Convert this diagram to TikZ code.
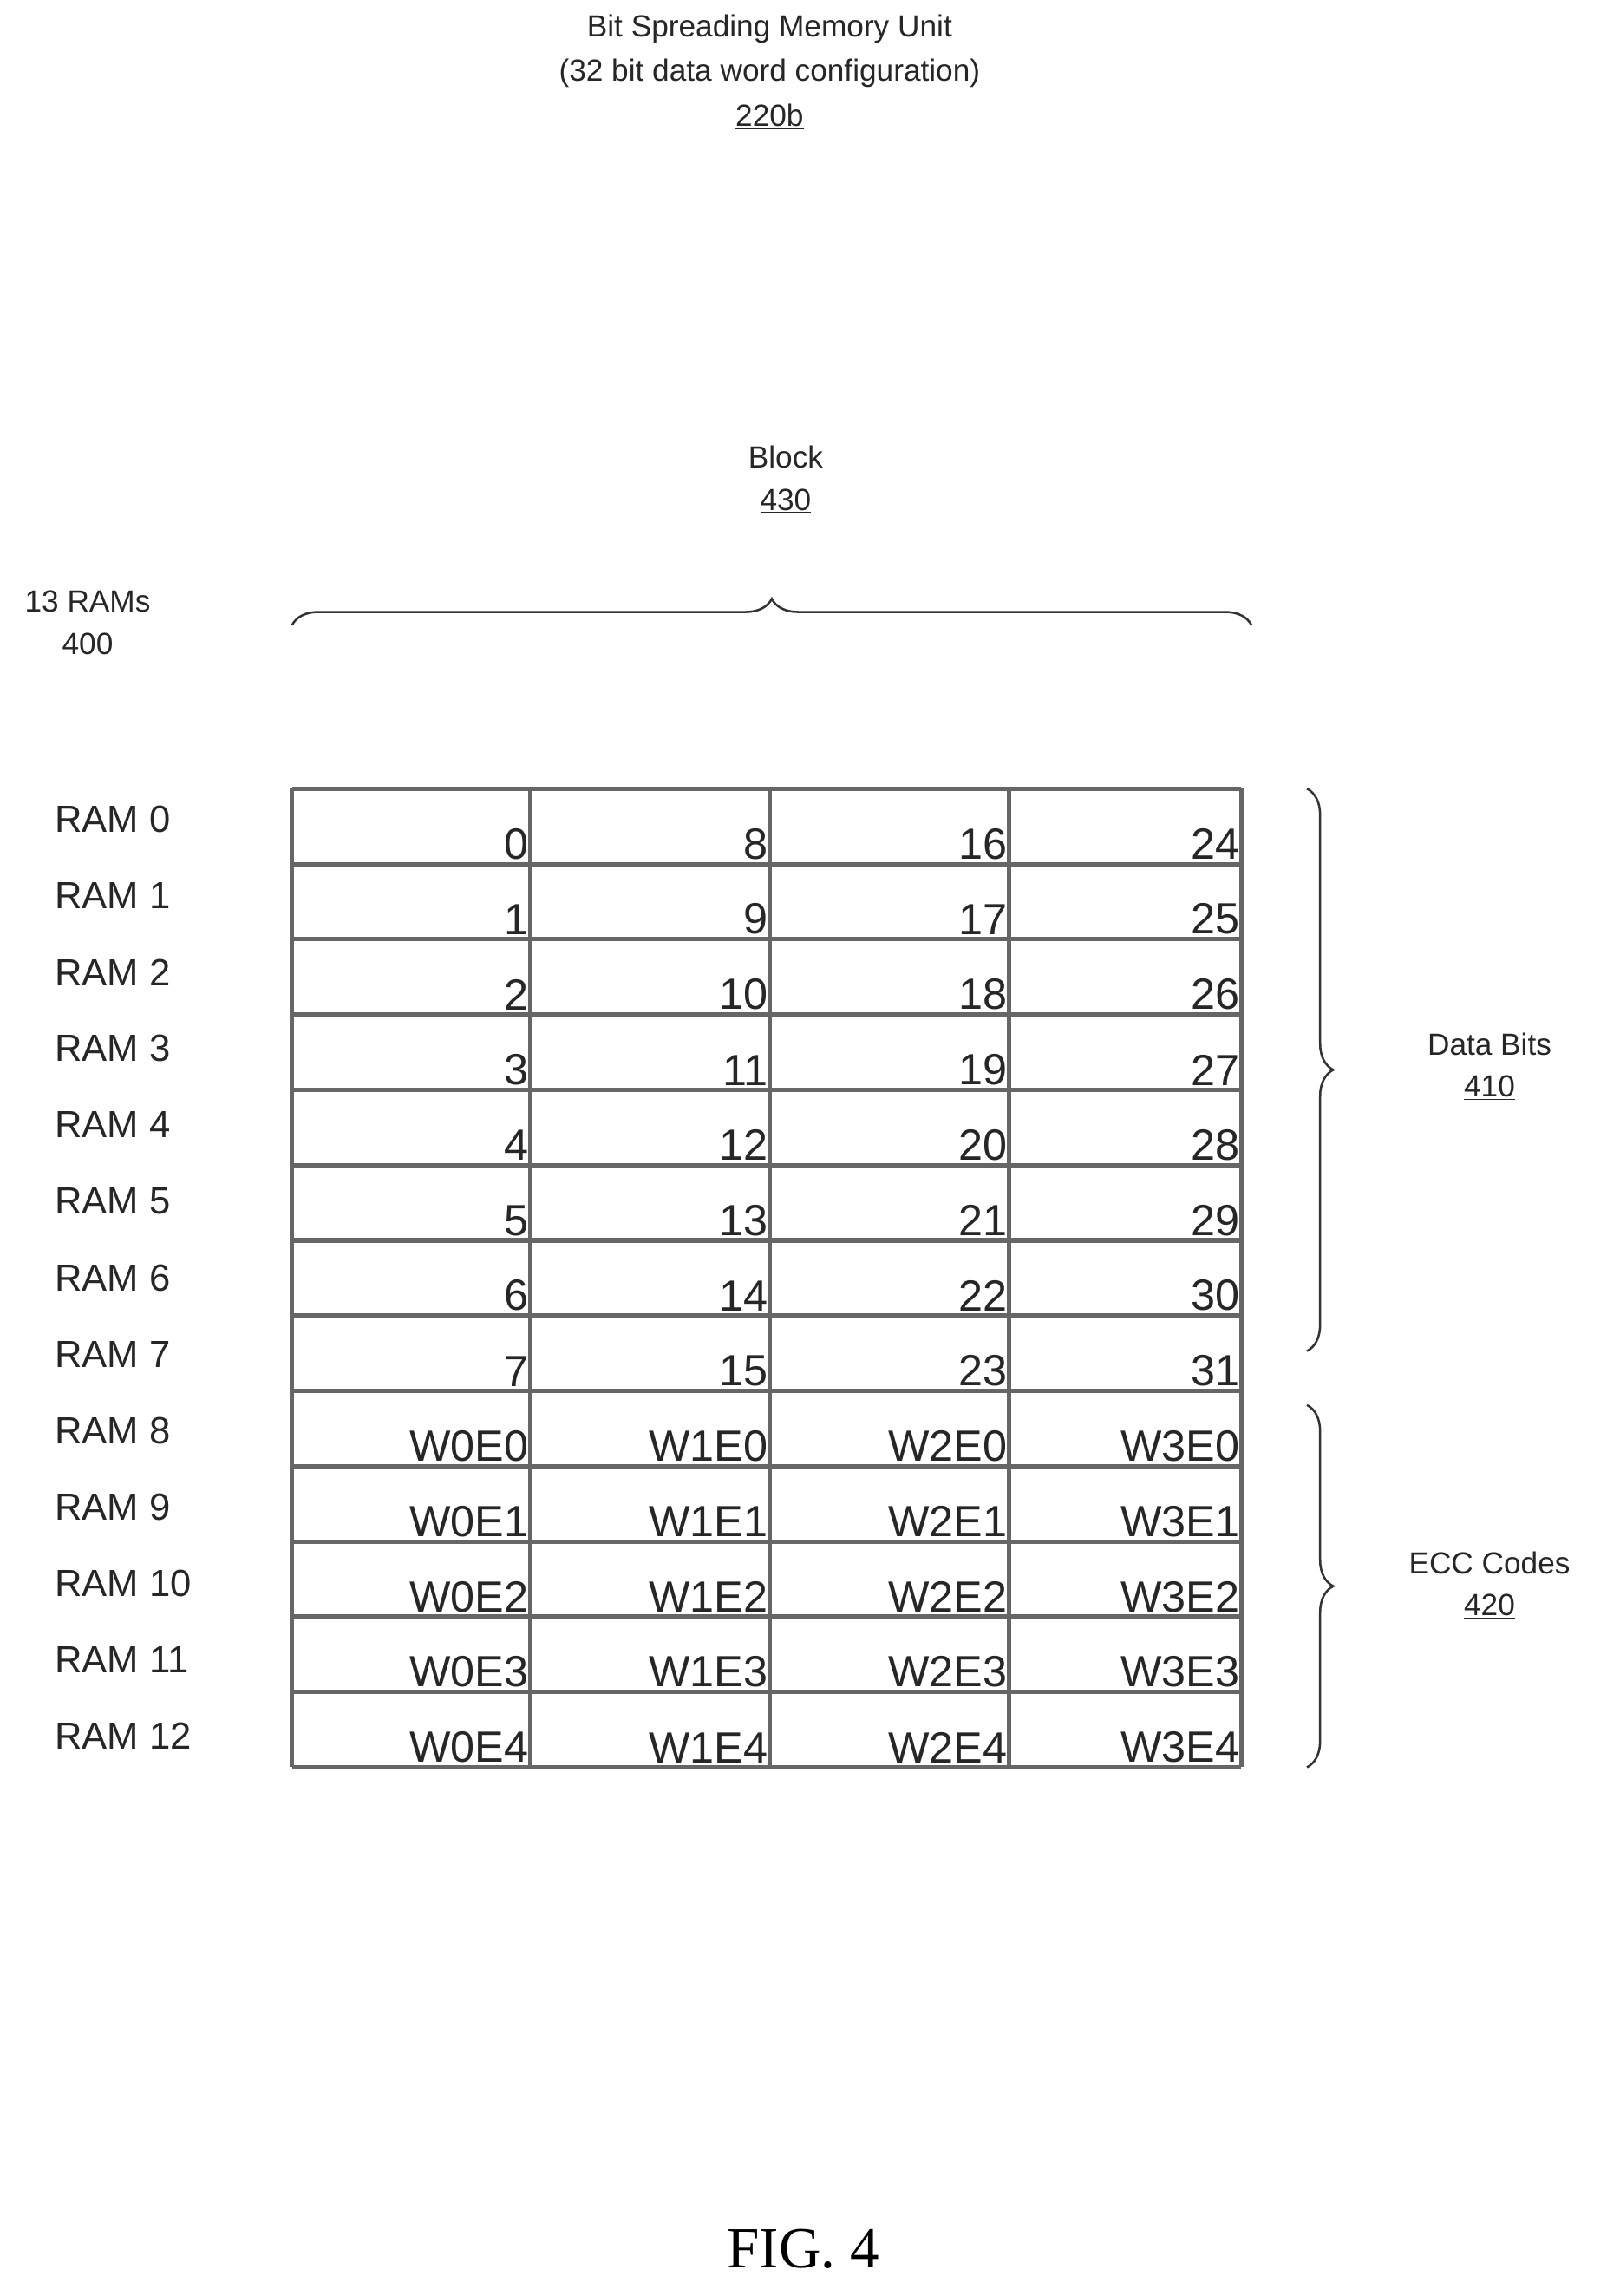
\documentclass[tikz,border=0pt]{standalone}
\usepackage{fontspec}
\setmainfont{Liberation Sans}
\newfontfamily\figfont{Liberation Serif}
\usetikzlibrary{decorations.pathreplacing}
\begin{document}
\begin{tikzpicture}[x=1bp,y=-1bp,
  lbl/.style={font=\fontsize{21}{24}\selectfont,align=center,text=black!85},
  ram/.style={font=\fontsize{26}{28}\selectfont,anchor=west,text=black!85},
  cell/.style={font=\fontsize{30}{32}\selectfont,anchor=south east,inner sep=1bp,text=black!85},
  grid/.style={draw=black!60,line width=3bp},
  brc/.style={decorate,decoration={brace,amplitude=18bp},line width=1.5bp,draw=black!80}]
\useasboundingbox (0,0) rectangle (1100,1572);
\node[lbl] (t1) at (527,20) {Bit Spreading Memory Unit};
\node[lbl] (t2) at (527,50) {(32 bit data word configuration)};
\node[lbl] (t3) at (527,80) {\underline{220b}};
\node[lbl] (b1) at (538,313) {Block};
\node[lbl] (b2) at (538,343) {\underline{430}};
\node[lbl] (r1) at (60,412) {13 RAMs};
\node[lbl] (r2) at (60,442) {\underline{400}};
\node[lbl] (d1) at (1020,715) {Data Bits};
\node[lbl] (d2) at (1020,745) {\underline{410}};
\node[lbl] (e1) at (1020,1070) {ECC Codes};
\node[lbl] (e2) at (1020,1100) {\underline{420}};
\node[font=\figfont\fontsize{40}{44}\selectfont] (fig) at (550,1540) {FIG. 4};
% grid
\foreach \i in {0,...,13}{\draw[grid] (200,{540+\i*51.54}) -- (850,{540+\i*51.54});}
\foreach \x in {200,363,527,691,850}{\draw[grid] (\x,540) -- (\x,1210);}
\foreach \r in {0,...,12}{
  \node[ram] (ram\r) at (34,{561+\r*52.3}) {RAM \r};}
\foreach \r in {0,...,7}{
  \foreach \c/\x in {0/363,1/527,2/691,3/850}{
    \pgfmathtruncatemacro{\v}{\r+8*\c}
    \node[cell] (c\r\c) at (\x,{540+(\r+1)*51.54-2}) {\v};}}
\foreach \r in {8,...,12}{
  \pgfmathtruncatemacro{\e}{\r-8}
  \foreach \c/\x in {0/363,1/527,2/691,3/850}{
    \node[cell] (c\r\c) at (\x,{540+(\r+1)*51.54-2}) {W\c E\e};}}
% braces
\draw[brc] (200,428) -- (857,428);
\draw[brc] (895,540) -- (895,925);
\draw[brc] (895,962) -- (895,1210);
\end{tikzpicture}
\end{document}
